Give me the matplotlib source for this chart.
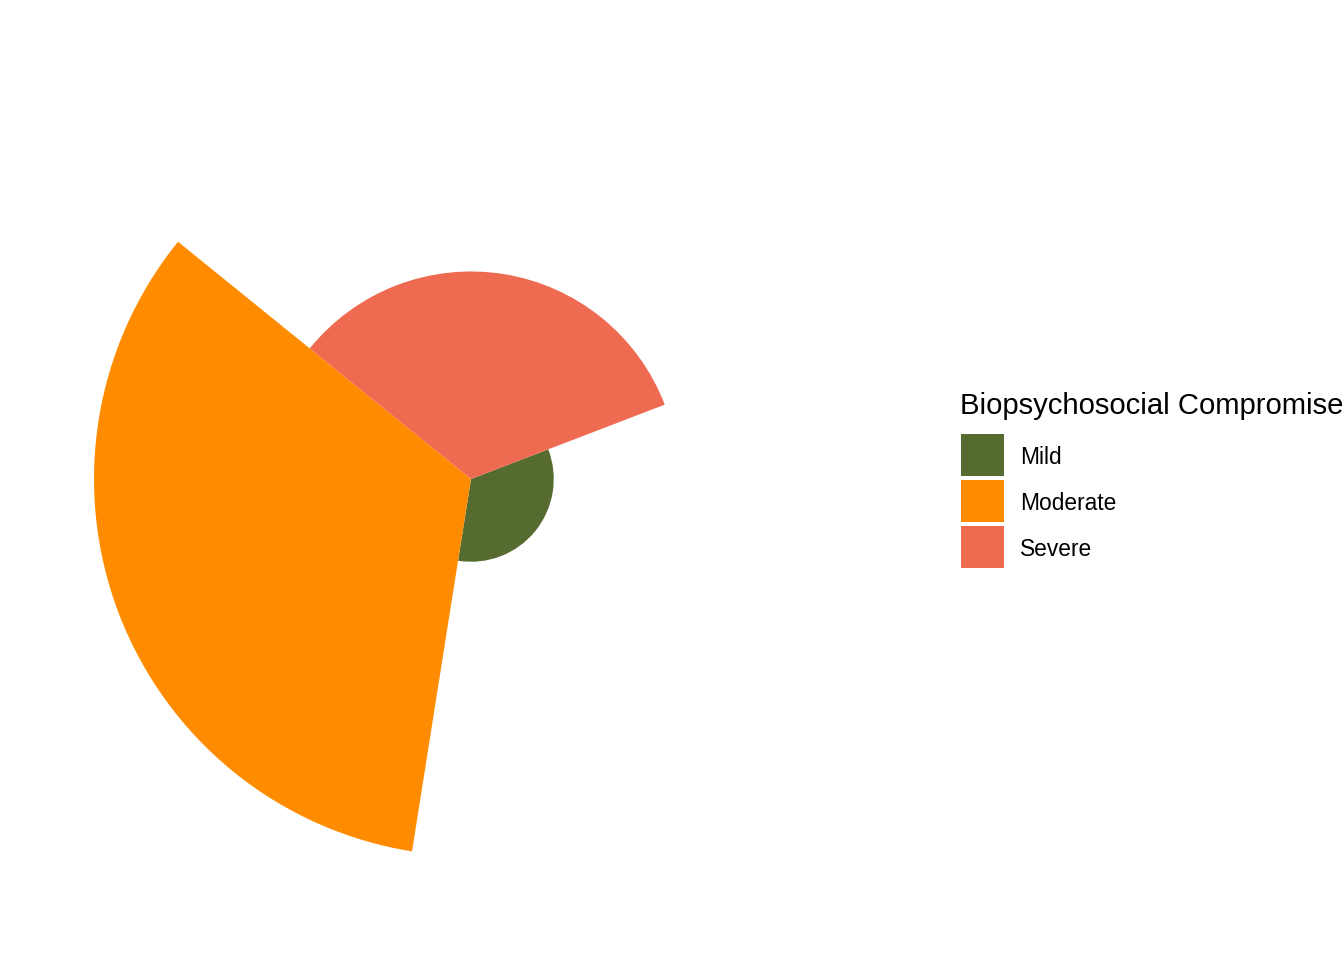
import numpy as np
import matplotlib
matplotlib.use("Agg")
import matplotlib.pyplot as plt
from matplotlib.patches import Rectangle

categories = ["Mild", "Moderate", "Severe"]
percent = [12.4, 56.5, 31.1]
colors = ["#556B2F", "#FF8C00", "#EE6A50"]
legend_title = "Biopsychosocial Compromise"

plt.rcParams['font.family'] = ['Liberation Sans', 'DejaVu Sans']

W, H = 1344, 960
fig = plt.figure(figsize=(W / 100, H / 100), dpi=100)

cx, cy = 471, 479          # centre in pixels
half = 400                 # axes half-size in pixels
ax = fig.add_axes([(cx - half) / W, (H - cy - half) / H, 2 * half / W, 2 * half / H],
                  projection='polar')
ax.set_theta_zero_location('N')
ax.set_theta_direction(-1)

n = len(categories)
width = 2 * np.pi / n
start = np.deg2rad(69)
thetas = start + np.arange(n) * width
ax.bar(thetas, percent, width=width, align='edge', color=colors, edgecolor='none',
       linewidth=0, bottom=0)
rmax = max(percent) * half / 377.0
ax.set_ylim(0, rmax)
ax.set_xticks([])
ax.set_yticks([])
ax.grid(False)
ax.spines['polar'].set_visible(False)
ax.patch.set_alpha(0)

# legend drawn in figure pixels
def fx(px):
    return px / W

def fy(py):
    return 1 - py / H

fig.text(fx(960), fy(414), legend_title, fontsize=21.1, ha='left', va='baseline')
key_tops = [434, 480, 526]
for cat, col, top in zip(categories, colors, key_tops):
    fig.patches.append(Rectangle((fx(961), fy(top + 42)), 43 / W, 42 / H,
                                 transform=fig.transFigure, facecolor=col,
                                 edgecolor='none'))
    fig.text(fx(1020), fy(top + 21), cat, fontsize=16.4, ha='left', va='center_baseline')

fig.savefig("out.png", dpi=100, facecolor='white')
